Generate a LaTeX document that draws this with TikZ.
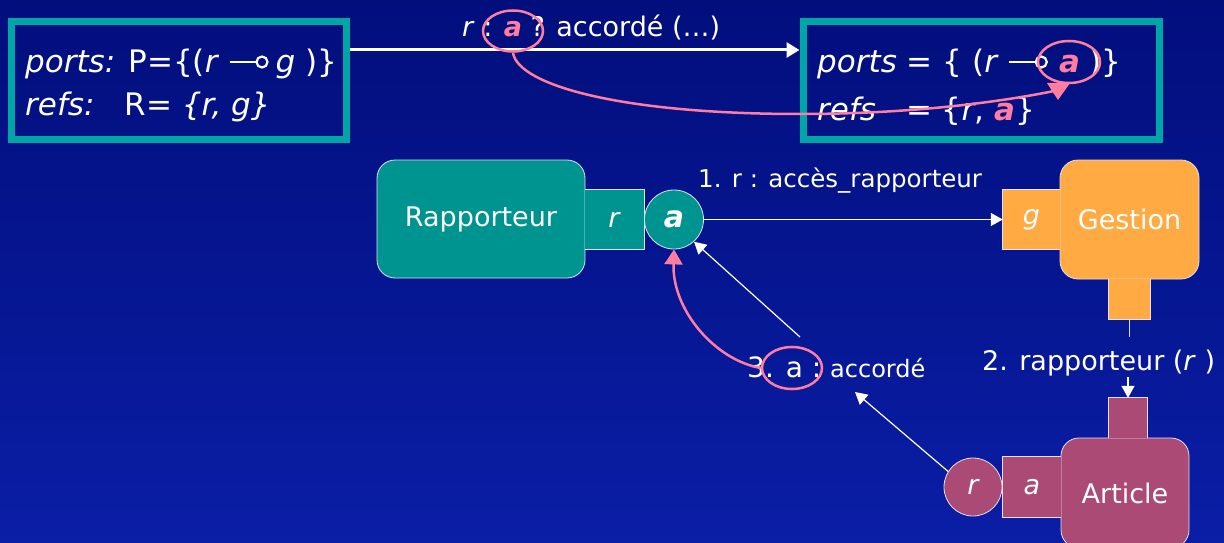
\documentclass[tikz,border=0pt]{standalone}
\usepackage{fontspec}
\setmainfont{DejaVu Sans}
\usetikzlibrary{arrows.meta,shapes.geometric}
\definecolor{bgtop}{RGB}{2,14,124}
\definecolor{bgbot}{RGB}{10,30,166}
\definecolor{tealb}{RGB}{0,166,166}
\definecolor{tealf}{RGB}{0,148,144}
\definecolor{orangef}{RGB}{255,170,66}
\definecolor{plum}{RGB}{170,74,117}
\definecolor{pinkc}{RGB}{255,125,160}
\definecolor{edgec}{RGB}{225,225,235}
\newcommand{\pa}{{\color{pinkc}\bfseries\itshape a}}
\newcommand{\fs}[1]{\fontsize{#1}{#1}\selectfont}
\tikzset{
  every node/.style={text=white},
  refbox/.style={draw=tealb, line width=7pt, minimum height=117pt, inner sep=0pt},
  txt/.style={anchor=base west, inner sep=0pt},
  big/.style={txt, font=\fs{31}},
  lolline/.style={draw=white, line width=2.6pt},
  lolcirc/.style={draw=white, line width=2.2pt},
  comp/.style={rounded corners=18pt, draw=edgec, line width=0.8pt, inner sep=0pt, font=\fs{27}},
  portbox/.style={inner sep=0pt, font=\fs{27}},
  portedge/.style={draw=edgec, line width=0.8pt},
  conn/.style={draw=white, line width=1.2pt, -{Triangle[length=12pt,width=13pt]}},
  plain/.style={draw=edgec, line width=1pt},
  pinkell/.style={ellipse, draw=pinkc, line width=2.5pt, inner sep=0pt},
  pinkline/.style={draw=pinkc, line width=2.5pt},
}
\begin{document}
\begin{tikzpicture}[x=1pt,y=-1pt]
\useasboundingbox (0,0) rectangle (1224,543);
\shade[top color=bgtop, bottom color=bgbot] (0,0) rectangle (1224,543);

% top boxes
\node[refbox, minimum width=335pt] (L) at (178.5,80.5) {};
\node[refbox, minimum width=356pt] (R) at (981,80.5) {};

\node[big] (Lp1) at (25,73) {\textit{ports:} P=\{(\textit{r}};
\node[big] (Lp2) at ([xshift=56pt]Lp1.base east) {\textit{g} )\}};
\draw[lolline] ([xshift=10pt,yshift=11pt]Lp1.base east) -- ([xshift=37pt,yshift=11pt]Lp1.base east);
\draw[lolcirc] ([xshift=42.5pt,yshift=11pt]Lp1.base east) circle (5.5pt);
\node[big] (Lr) at (25,115) {\textit{refs:}\hspace{30pt}R= \textit{\{r, g\}}};

\node[big] (Rp1) at (817,73) {\textit{ports} = \{ (\textit{r}};
\node[big] (Rp2) at ([xshift=60pt]Rp1.base east) {\pa\ )\}};
\draw[lolline] ([xshift=10pt,yshift=11pt]Rp1.base east) -- ([xshift=37pt,yshift=11pt]Rp1.base east);
\draw[lolcirc] ([xshift=42.5pt,yshift=11pt]Rp1.base east) circle (5.5pt);
\node[big] (Rr) at (817,120) {\textit{refs}\hspace{30pt}= \{\textit{r}, \pa\}};

% top arrow and label
\draw[draw=white, line width=3pt, -{Triangle[length=13pt,width=15pt]}] ([yshift=30.5pt]L.east) -- ([yshift=30.5pt]R.west);
\node[txt, font=\fs{27}] (tl) at (462,37) {\textit{r} : \pa\ ? accordé (…)};
\node[pinkell, minimum width=60pt, minimum height=41pt] (e0) at (513,31) {};
\node[pinkell, minimum width=62pt, minimum height=42pt] (e1) at (1069,62) {};
\coordinate (pt1) at (1054,91);
\draw[pinkline] (e0.south) .. controls (518,85) and (620,114) .. (800,114)
      .. controls (920,114) and (1010,100) .. (pt1);
\fill[pinkc] (1047,83) -- (1070,83) -- (1058,100) -- cycle;

% Rapporteur
\node[comp, fill=tealf, minimum width=208pt, minimum height=118pt] (rap) at (481,219) {Rapporteur};
\node[portbox, fill=tealf, minimum width=59pt, minimum height=59pt] (rp) at (614.5,219.5) {\textit{r}};
\draw[portedge] (rp.north west) -- (rp.north east) -- (rp.south east) -- (rp.south west);
\node[circle, draw=edgec, line width=0.8pt, fill=tealf, minimum size=59pt, inner sep=0pt, font=\fs{30}\bfseries\itshape] (ca) at (674,219.5) {a};

% Gestion
\node[comp, fill=orangef, minimum width=139pt, minimum height=119pt] (ges) at (1129.5,219.5) {Gestion};
\node[portbox, fill=orangef, minimum width=57pt, minimum height=59pt] (gp) at (1031.5,219.5) {\textit{g}};
\draw[portedge] (gp.north east) -- (gp.north west) -- (gp.south west) -- (gp.south east);
\node[portbox, fill=orangef, minimum width=41pt, minimum height=40pt] (gb) at (1129.5,299) {};
\draw[portedge] (gb.north west) -- (gb.south west) -- (gb.south east) -- (gb.north east);

% Article
\node[comp, fill=plum, minimum width=128pt, minimum height=110pt] (art) at (1125,493) {Article};
\node[portbox, fill=plum, minimum width=38pt, minimum height=40pt] (atp) at (1128,418) {};
\draw[portedge] (atp.south west) -- (atp.north west) -- (atp.north east) -- (atp.south east);
\node[portbox, fill=plum, minimum width=58pt, minimum height=60pt] (ap) at (1032,487) {\textit{a}};
\draw[portedge] (ap.north east) -- (ap.north west) -- (ap.south west) -- (ap.south east);
\node[circle, draw=edgec, line width=0.8pt, fill=plum, minimum size=58pt, inner sep=0pt, font=\fs{27}\itshape] (rc) at (973,487) {r};

% connector 1
\draw[conn] (ca.east) -- (gp.west);
\node[txt, font=\fs{24.5}] (l1) at (698,187) {1. r : accès\_rapporteur};

% connector 2
\node[txt, font=\fs{27}] (l2) at (982,370) {2. rapporteur (\textit{r} )};
\coordinate (c2a) at (1129.5,337);
\coordinate (c2b) at (1128,377);
\draw[plain] (gb.south) -- (c2a);
\draw[conn] (c2b) -- (atp.north);

% connector 3
\node[txt] (l3) at (747,377) {\fs{28}3. a :\ \fs{24}accordé};
\node[pinkell, minimum width=60pt, minimum height=42pt] (e3) at (792,368) {};
\coordinate (t3) at (855,392);
\draw[conn] (rc.148) -- (t3);
\coordinate (s4) at (800,337);
\draw[conn] (s4) -- (ca.-48);
\draw[pinkline, -{Triangle[length=15pt,width=18pt]}] (e3.west) .. controls (715,360) and (672,310) .. (ca.south);
\end{tikzpicture}
\end{document}
